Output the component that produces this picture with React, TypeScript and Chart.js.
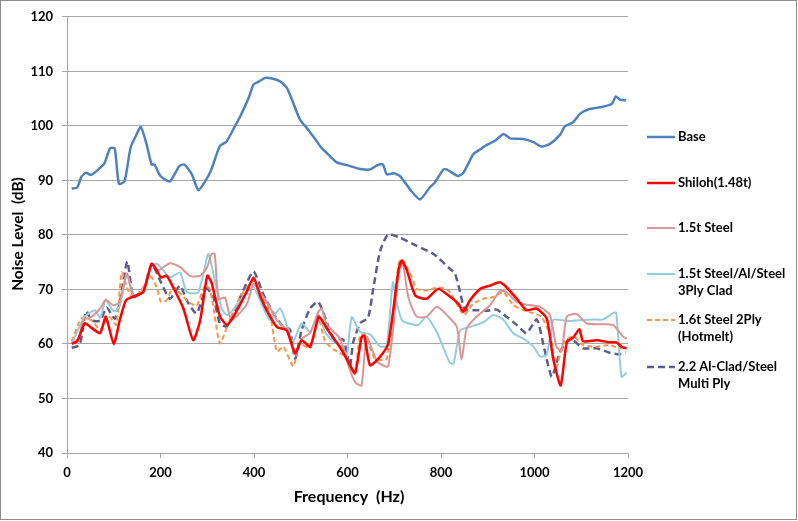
import React, { useEffect, useRef } from "react";
import { Chart, registerables } from "chart.js";

Chart.register(...registerables);

const SERIES_NAMES = ["Base", "Shiloh(1.48t)", "1.5t Steel", "1.5t Steel/Al/Steel", "1.6t Steel 2Ply", "2.2 Al-Clad/Steel"];
const LEGEND_LINES = [["Base"], ["Shiloh(1.48t)"], ["1.5t Steel"], ["1.5t Steel/Al/Steel", "3Ply Clad"], ["1.6t Steel 2Ply", "(Hotmelt)"], ["2.2 Al-Clad/Steel", "Multi Ply"]];
const X_TITLE = "Frequency  (Hz)";
const Y_TITLE = "Noise Level  (dB)";

const BASE_F = [10,22,31,41,51,63,80,92,102,111,123,136,147,158,170,181,187,200,220,240,251,267,281,296,308,327,341,359,371,388,399,410,424,438,455,470,484,498,516,533,544,562,577,598,627,648,666,676,684,698,712,736,755,776,787,805,812,837,848,869,884,898,916,934,948,976,998,1015,1033,1055,1065,1083,1097,1115,1140,1165,1174,1183,1196];
const BASE_V = [88.5,88.7,90.7,91.4,91.0,91.7,93.1,95.9,95.9,89.4,89.8,96,98.1,99.8,96.7,92.9,92.9,90.8,89.8,92.6,92.9,91.1,88.2,89.9,91.8,96.3,97.1,99.9,101.8,105,107.6,108.1,108.8,108.7,108.2,107,104.2,101.2,99.3,97.3,96,94.5,93.3,92.8,92.1,92,92.9,92.9,91.1,91.3,90.8,88.1,86.5,88.7,89.6,92,92,90.8,91.4,94.8,95.7,96.5,97.3,98.5,97.7,97.6,97,96.2,96.7,98.4,99.9,100.7,102.2,103,103.4,104,105.4,104.8,104.7];

const SHILOH_F = [10,22,38,53,71,83,100,113,126,142,163,181,192,201,213,227,249,270,285,300,309,327,342,356,384,399,413,427,449,470,488,502,520,538,545,556,584,602,616,630,636,648,666,687,709,716,727,745,769,794,816,837,848,862,884,905,926,940,962,983,1004,1026,1040,1056,1069,1083,1096,1104,1133,1161,1175,1186,1197];
const SHILOH_V = [60,60.5,63.8,62.9,62,65,60,64.4,68,68.7,69.5,74.7,73.5,72.2,72.5,70.4,66.5,60.7,64.4,72.5,71.3,65.1,63.5,65,69.5,72.2,68.9,66.2,63.1,62.5,58.3,60.7,59.5,65,64.4,62.8,59.4,56.7,54.6,61.2,61.5,56.1,57.3,60,73.5,75.3,73.5,68.9,68.3,70.1,68.9,67.4,65.9,68,70.1,70.7,71.3,70.4,68.3,66.2,66.5,64.7,57.3,52.4,60.3,61.2,62.7,60.5,60.7,60.3,60.3,59.5,59.2];

const STEEL_F = [10,25,35,53,71,83,99,113,128,142,163,181,195,220,242,263,285,300,309,316,324,338,352,384,399,413,427,449,470,488,502,520,538,545,556,584,602,616,630,641,663,687,709,718,730,748,769,791,816,834,844,855,876,905,926,940,962,983,1012,1033,1047,1058,1069,1090,1111,1139,1168,1190,1198];
const STEEL_V = [60.2,61,64.4,65,66.5,68.1,67.1,67.7,72.9,68.7,70,74.7,73.5,74.8,74.1,72.5,72.5,74.1,76.5,76.5,68.3,68.5,64.4,67.2,71,69.4,67.8,64.4,62.5,58,61,62,66,66.5,63.5,61,56,53,52.4,61.3,56.8,55.9,72.5,75,68.6,65,65,66.8,65,63.1,57.1,62.9,65,67.1,69.7,69.5,67.7,67.2,66.8,65.3,59.5,58.7,65,65.5,63.8,63.6,63.5,61.3,61];

const CLAD_F = [10,38,60,71,83,100,113,128,142,163,181,192,201,220,242,256,281,302,313,331,342,356,384,399,413,434,456,470,484,502,520,538,552,570,591,598,609,627,648,670,684,697,705,716,730,752,769,791,819,827,841,862,891,912,933,955,976,998,1012,1026,1040,1055,1076,1104,1126,1147,1169,1175,1186,1197];
const CLAD_V = [60,65,66.2,64.8,68,66,67,72.9,69,69.5,74.3,74.7,74,72.2,73.1,69.5,69.5,76.5,72.9,66.5,65.3,66.3,69.5,70.4,68,64.4,66.5,63.5,60.5,63.8,62.2,65.5,62.2,60.5,59.2,57.1,64.9,62.2,61.8,59.5,59.7,71.3,67.7,64.4,63.8,63.5,65,62.2,56.5,56.4,62.5,63.1,64,65.3,64.5,61.9,61,59.5,57.7,58,64.4,64.4,64.2,64.4,64.5,64.5,65.7,65.7,54,54.7];

const HOTMELT_F = [10,31,53,71,90,105,117,130,142,163,178,192,201,213,227,245,256,277,295,306,327,342,370,399,413,434,449,463,484,498,520,538,552,570,590,605,616,627,638,659,684,709,716,738,748,769,794,816,841,850,869,891,912,933,955,976,998,1015,1033,1047,1062,1083,1104,1133,1161,1182,1197];
const HOTMELT_V = [60.5,64.7,64.3,62.6,65,63.5,73.1,70,68.5,70.4,72.5,70.4,67.7,68,70.4,69,68,67,70.7,70,60.1,63,68.6,71.6,69.5,65.5,58.6,59.5,55.9,60,59.2,64.5,60.5,59,58,56,54.8,61.6,61.6,57.3,57.3,74.7,75.6,72.2,70.1,69.8,70.4,69.8,66.2,65.3,67.4,68.3,68.6,69.5,67.1,66.2,65.6,65,61.7,55.9,60.2,61.4,59.8,59.5,59.8,59.2,59.5];

const MULTI_F = [10,27,41,53,71,85,102,113,129,142,163,181,201,220,242,256,277,298,313,327,342,377,399,420,441,459,477,488,502,520,538,570,591,605,612,627,644,655,670,687,712,748,784,819,830,841,851,876,898,919,940,962,983,1005,1020,1037,1055,1076,1104,1133,1161,1182,1195];
const MULTI_V = [59.3,59.8,66,64.3,64.3,66.7,64.6,67.7,75.1,68.6,69.8,74.7,71.3,68.3,70.7,68,65.6,70.2,68.6,63.8,63.2,69.8,73.3,69.1,65.7,63.5,62.6,57.2,62.6,66.5,67.7,61,60.8,55.9,60.2,63.8,64.8,70.1,77.1,80.1,79.5,78,76.5,73.8,72.9,69.5,66.3,66.2,66.1,66.3,65,63.5,62,64.5,59.5,54,58.6,61,59.2,59.2,58.4,58.1,58.5];

const COLORS = ["#4F81BD", "#FF0000", "#D99694", "#93CDDD", "#F79646", "#5E5E8C"];
const WIDTHS = [2.5, 2.5, 2, 2, 2, 2.5];
const DASHES: number[][] = [[], [], [], [], [5, 3], [7, 4]];

const FONT = "Lato, 'Open Sans', sans-serif";

function zip(f: number[], v: number[]) {
  return f.map((x, i) => ({ x, y: v[i] }));
}

const overlay = {
  id: "overlay",
  beforeDraw(chart: any) {
    const ctx = chart.ctx;
    ctx.save();
    ctx.fillStyle = "#FFFFFF";
    ctx.fillRect(0, 0, chart.width, chart.height);
    ctx.restore();
  },
  afterDraw(chart: any) {
    const ctx = chart.ctx;
    ctx.save();
    // outer border
    ctx.strokeStyle = "#8C8C8C";
    ctx.lineWidth = 1;
    ctx.strokeRect(0.5, 0.5, chart.width - 2, chart.height - 2);
    // titles
    ctx.fillStyle = "#000";
    ctx.textAlign = "center";
    ctx.textBaseline = "middle";
    ctx.font = `bold 16px ${FONT}`;
    ctx.fillText(X_TITLE, 349, 497);
    ctx.save();
    ctx.font = `bold 15.5px ${FONT}`;
    ctx.translate(18, 234);
    ctx.rotate(-Math.PI / 2);
    ctx.fillText(Y_TITLE, 0, 0);
    ctx.restore();
    // legend
    const ys = [137, 183, 228, 274, 320, 367];
    ctx.font = `bold 13px ${FONT}`;
    ctx.textAlign = "left";
    LEGEND_LINES.forEach((lines, i) => {
      const y = ys[i];
      ctx.beginPath();
      ctx.strokeStyle = COLORS[i];
      ctx.lineWidth = WIDTHS[i];
      ctx.setLineDash(DASHES[i]);
      ctx.moveTo(647, y);
      ctx.lineTo(675, y);
      ctx.stroke();
      ctx.setLineDash([]);
      ctx.fillStyle = "#000";
      lines.forEach((t, j) => ctx.fillText(t, 678, y + j * 17));
    });
    ctx.restore();
  },
};

export default function App() {
  const ref = useRef<HTMLCanvasElement | null>(null);
  useEffect(() => {
    if (!ref.current) return;
    const series = [
      zip(BASE_F, BASE_V),
      zip(SHILOH_F, SHILOH_V),
      zip(STEEL_F, STEEL_V),
      zip(CLAD_F, CLAD_V),
      zip(HOTMELT_F, HOTMELT_V),
      zip(MULTI_F, MULTI_V),
    ];
    const chart = new Chart(ref.current, {
      type: "line",
      data: {
        datasets: series.map((d, i) => ({
          label: SERIES_NAMES[i],
          data: d,
          borderColor: COLORS[i],
          backgroundColor: COLORS[i],
          borderWidth: WIDTHS[i],
          borderDash: DASHES[i],
          pointRadius: 0,
          tension: 0.2,
          fill: false,
        })),
      },
      options: {
        responsive: false,
        animation: false,
        layout: { padding: { top: 15, right: 170, left: 0, bottom: 0 } },
        plugins: { legend: { display: false }, tooltip: { enabled: false } },
        scales: {
          x: {
            type: "linear",
            min: 0,
            max: 1200,
            ticks: {
              stepSize: 200,
              color: "#000",
              font: { family: FONT, weight: "bold", size: 13 },
              padding: 7,
              maxRotation: 0,
              callback: (v: any) => String(v),
            },
            grid: { drawOnChartArea: false, drawTicks: true, tickLength: 5, color: "#A6A6A6" },
            border: { color: "#A6A6A6" },
            afterFit: (s: any) => { s.height = 68; },
          },
          y: {
            min: 40,
            max: 120,
            ticks: {
              stepSize: 10,
              color: "#000",
              font: { family: FONT, weight: "bold", size: 13 },
              padding: 9,
              callback: (v: any) => String(v),
            },
            grid: { color: "#A6A6A6", tickLength: 5, drawTicks: true },
            border: { color: "#A6A6A6" },
            afterFit: (s: any) => { s.width = 67; },
          },
        },
      },
      plugins: [overlay],
    } as any);
    return () => chart.destroy();
  }, []);
  return (
    <div style={{ position: "fixed", left: 0, top: 0, width: 798, height: 521 }}>
      <canvas ref={ref} width={798} height={521} />
    </div>
  );
}
